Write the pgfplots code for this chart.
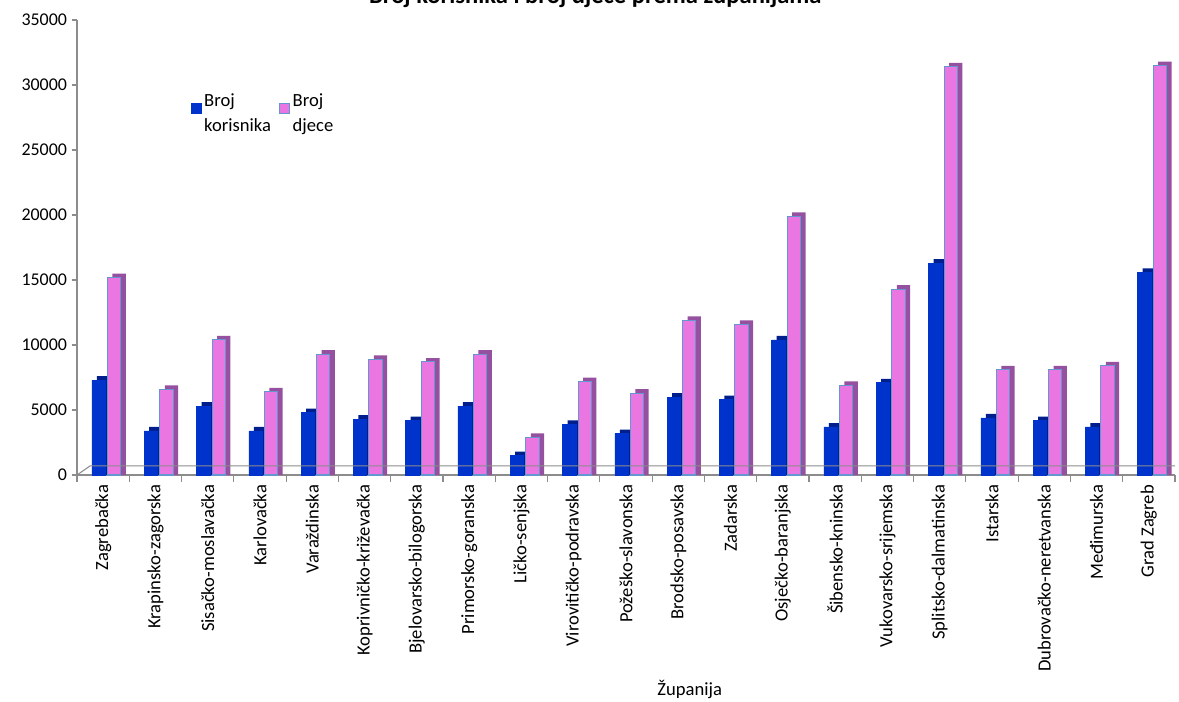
\documentclass[border=0pt]{standalone}
\usepackage{pgfplots}
\pgfplotsset{compat=1.18}
\usepackage{pgfplotstable}
\usepackage{fontspec}
\setmainfont{Carlito}
\definecolor{cblue}{RGB}{0,51,204}
\definecolor{cblueside}{RGB}{0,30,140}
\definecolor{cpink}{RGB}{234,118,226}
\definecolor{cpinkside}{RGB}{150,80,160}
\definecolor{cpinkedge}{RGB}{100,150,210}
\definecolor{caxis}{RGB}{140,140,140}

\pgfplotstableread{
idx blue pink
0 7300 15200
1 3400 6600
2 5300 10400
3 3400 6400
4 4800 9300
5 4300 8900
6 4200 8700
7 5300 9300
8 1500 2900
9 3900 7200
10 3200 6300
11 6000 11900
12 5800 11600
13 10400 19900
14 3700 6900
15 7100 14300
16 16300 31400
17 4400 8100
18 4200 8100
19 3700 8400
20 15600 31500
}\data

\begin{document}
\begin{tikzpicture}
\begin{axis}[
  name=ax,
  width=823.5bp, height=341.25bp, scale only axis,
  xmin=-0.5, xmax=20.5, ymin=0, ymax=35000,
  ybar, bar width=10bp,
  clip=false,
  axis x line*=bottom, axis y line*=left,
  axis line style={caxis, line width=0.8pt, -},
  ytick={0,5000,...,35000},
  scaled y ticks=false,
  /pgf/number format/1000 sep={},
  /pgf/number format/assume math mode=true,
  y tick label style={font=\fontsize{13.5}{15}\selectfont},
  xtick={0,...,20},
  xticklabels={Zagrebačka,Krapinsko-zagorska,Sisačko-moslavačka,Karlovačka,Varaždinska,Koprivničko-križevačka,Bjelovarsko-bilogorska,Primorsko-goranska,Ličko-senjska,Virovitičko-podravska,Požeško-slavonska,Brodsko-posavska,Zadarska,Osječko-baranjska,Šibensko-kninska,Vukovarsko-srijemska,Splitsko-dalmatinska,Istarska,Dubrovačko-neretvanska,Međimurska,Grad Zagreb},
  x tick label style={rotate=90, anchor=east, font=\fontsize{14}{16}\selectfont},
  minor xtick={-0.5,0.5,...,20.5},
  tick align=outside,
  x tick style={draw=none},
  minor x tick style={caxis, draw=caxis, line width=0.8pt},
  minor tick length=5bp,
  y tick style={caxis, line width=0.8pt},
  major tick length=4bp,
  xlabel={Županija},
  xlabel style={at={(axis description cs:0.558,0)}, anchor=center, yshift=-161bp, font=\fontsize{14}{16}\selectfont},
  legend style={at={(rel axis cs:0.10,0.85)}, anchor=north west, draw=none, fill=none,
    font=\fontsize{14}{18.75}\selectfont, cells={align=left},
    /tikz/every even column/.append style={column sep=4bp}},
  legend columns=2,
  legend image code/.code={\draw[#1] (0bp,0bp) rectangle (7.5bp,7.5bp);},
]
% depth faces
\addplot[fill=cblueside, draw=none, bar shift=0.35bp, forget plot] table[x=idx, y expr=\thisrow{blue}+300] {\data};
\addplot[fill=cpinkside, draw=none, bar shift=12bp, forget plot] table[x=idx, y expr=\thisrow{pink}+300] {\data};
% front faces
\addplot[fill=cblue, draw=cblue, bar shift=-3.4bp] table[x=idx, y=blue] {\data};
\addplot[fill=cpink, draw=cpinkedge, line width=0.8pt, bar shift=8.25bp] table[x=idx, y=pink] {\data};
\legend{Broj\\korisnika, Broj\\djece}
\draw[caxis, line width=0.8pt] (axis cs:-0.5,0) -- (axis cs:-0.25,700) -- (axis cs:20.5,700);
\node[font=\bfseries\fontsize{18.5}{20}\selectfont, anchor=base, yshift=12bp] at (rel axis cs:0.472,1) {Broj korisnika i broj djece prema županijama};
\end{axis}
\pgfresetboundingbox
\path[use as bounding box] ([xshift=-57.75bp,yshift=-170.25bp]ax.south west) rectangle ([xshift=3bp,yshift=15bp]ax.north east);
\end{tikzpicture}
\end{document}
